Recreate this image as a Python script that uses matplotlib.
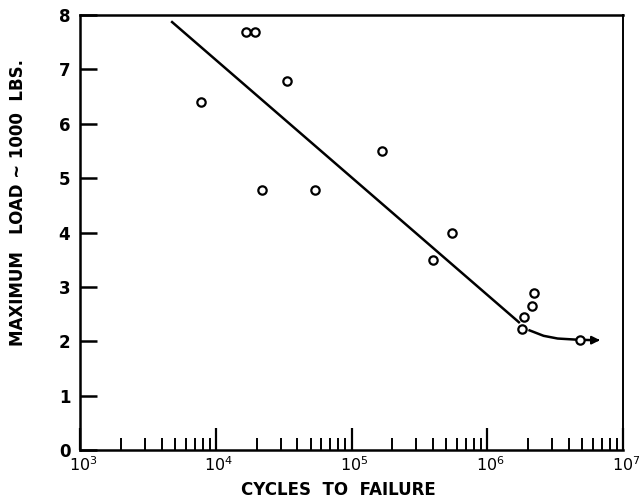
import numpy as np
import matplotlib.pyplot as plt
import matplotlib.transforms as mtransforms
from matplotlib.ticker import LogLocator, NullFormatter, FixedLocator

# test points (cycles, load in 1000 lbs)
cycles = [7800, 16800, 19600, 33600, 22000, 53700, 168000, 546000,
          398000, 1.8e6, 1.86e6, 2.13e6, 2.2e6, 4.85e6]
load = [6.4, 7.68, 7.68, 6.78, 4.78, 4.78, 5.5, 3.99,
        3.49, 2.22, 2.44, 2.65, 2.89, 2.02]

# fitted straight line
fit_cycles = [4770, 1.71e6]
fit_load = [7.87, 2.35]

# endurance limit curve (runout)
tail_cycles = [2.05e6, 2.6e6, 3.3e6, 4.5e6, 6.0e6, 7.1e6]
tail_load = [2.2, 2.1, 2.05, 2.03, 2.02, 2.02]

xtick_vals = [1e3, 1e4, 1e5, 1e6, 1e7]
xtick_labels = [r'$10^{3}$', r'$10^{4}$', r'$10^{5}$', r'$10^{6}$', r'$10^{7}$']

fig = plt.figure(figsize=(6.39, 4.99), dpi=100)
ax = fig.add_axes([80/639, 49/499, 543/639, 435/499])

ax.plot(fit_cycles, fit_load, color='black', linewidth=1.8)
ax.plot(tail_cycles[:-1], tail_load[:-1], color='black', linewidth=1.8)
ax.annotate('', xy=(tail_cycles[-1], tail_load[-1]), xytext=(tail_cycles[-2], tail_load[-2]),
            arrowprops=dict(arrowstyle='-|>', color='black', lw=1.5, mutation_scale=12))
ax.plot(cycles, load, linestyle='none', marker='o', markersize=6, markerfacecolor='white',
        markeredgecolor='black', markeredgewidth=1.6, zorder=3)

ax.set_xscale('log')
ax.set_xlim(1e3, 1e7)
ax.set_ylim(0, 8)

ax.xaxis.set_minor_locator(LogLocator(base=10, subs=np.arange(2, 10), numticks=20))
ax.xaxis.set_minor_formatter(NullFormatter())
ax.set_xticks(xtick_vals)
ax.set_xticklabels(xtick_labels)
ax.yaxis.set_major_locator(FixedLocator(range(0, 9)))

ax.tick_params(axis='x', which='major', direction='in', length=16, width=1.6,
               labelsize=11.5, pad=4)
ax.tick_params(axis='x', which='minor', direction='in', length=9, width=1.4)
ax.tick_params(axis='y', which='major', direction='in', length=12, width=1.8,
               labelsize=12, pad=7)
for lab in ax.get_yticklabels():
    lab.set_fontweight('bold')
# the "10" sits over the tick, exponent hangs to the right
shift = mtransforms.ScaledTranslation(3/100, 0, fig.dpi_scale_trans)
for lab in ax.get_xticklabels():
    lab.set_transform(lab.get_transform() + shift)

for s in ['left', 'bottom', 'top']:
    ax.spines[s].set_linewidth(1.8)
ax.spines['right'].set_linewidth(1.4)

ax.set_xlabel('CYCLES  TO  FAILURE', fontsize=12, fontweight='bold')
ax.xaxis.set_label_coords(0.475, -0.072)
ax.set_ylabel('MAXIMUM   LOAD ~ 1000  LBS.', fontsize=12, fontweight='bold')
ax.yaxis.set_label_coords(-0.097, 0.57)

fig.savefig('out.png', dpi=100)
